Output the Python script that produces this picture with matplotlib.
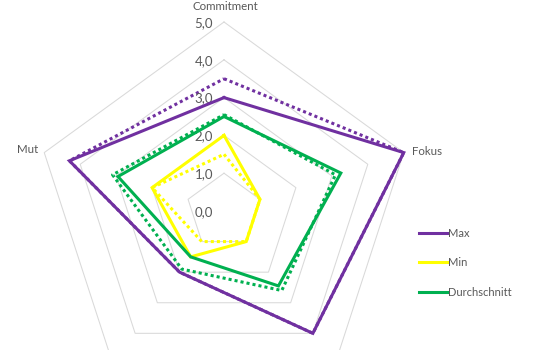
import numpy as np
import matplotlib
matplotlib.use('Agg')
import matplotlib.pyplot as plt

plt.rcParams['font.family'] = ['Lato', 'DejaVu Sans']

# categories clockwise from top; the two lower ones are cut off in the reference
categories = ['Commitment', 'Fokus', '', '', 'Mut']
series = ['Max', 'Min', 'Durchschnitt']
colors = ['#7030A0', '#FFFF00', '#00B050']

max_vals = [3.0, 5.0, 4.0, 2.0, 4.3]
min_vals = [2.0, 1.0, 1.0, 1.5, 2.0]
avg_vals = [2.5, 3.25, 2.45, 1.5, 2.95]

# dotted comparison series (no legend entry)
max_prev = [3.5, 5.0, 4.0, 2.0, 4.3]
min_prev = [1.5, 1.0, 1.0, 1.0, 2.0]
avg_prev = [2.55, 3.1, 2.6, 1.9, 3.1]

ring_values = [1, 2, 3, 4, 5]
text_col = '#595959'

n = len(categories)
angles = np.linspace(0, 2 * np.pi, n, endpoint=False)
closed = np.append(angles, angles[0])


def close(vals):
    return np.append(vals, vals[0])


W, H = 546, 350
fig = plt.figure(figsize=(W / 100, H / 100), dpi=100)
cx, cy, R = 224, 211, 189
ax = fig.add_axes([(cx - R) / W, (H - cy - R) / H, 2 * R / W, 2 * R / H],
                  projection='polar')
ax.set_theta_offset(np.pi / 2)
ax.set_theta_direction(-1)
ax.set_ylim(0, 5)
ax.axis('off')

for v in ring_values:
    ax.plot(closed, [v] * (n + 1), color='#D9D9D9', lw=0.75, clip_on=False, zorder=1)

for v in [0] + ring_values:
    ax.annotate(f'{v:.1f}'.replace('.', ','), xy=(0, v), xytext=(-11, -1),
                textcoords='offset pixels', ha='right', va='center',
                fontsize=9.5, color=text_col, annotation_clip=False)

for vals, c in zip([max_prev, min_prev, avg_prev], colors):
    ax.plot(closed, close(vals), color=c, lw=2.2, ls=(0, (1, 1)),
            dash_capstyle='butt', clip_on=False, zorder=2)

handles = []
for vals, c, name in zip([max_vals, min_vals, avg_vals], colors, series):
    h, = ax.plot(closed, close(vals), color=c, lw=2.2, label=name,
                 solid_joinstyle='miter', clip_on=False, zorder=3)
    handles.append(h)

offsets = {0: ((1, 16), 'center'), 1: ((8, 1), 'left'), 4: ((-6, 3), 'right')}
for i, (off, ha) in offsets.items():
    ax.annotate(categories[i], xy=(angles[i], 5), xytext=off,
                textcoords='offset pixels', ha=ha, va='center',
                fontsize=8.3, color=text_col, annotation_clip=False)

fig.legend(handles=handles, loc='upper left', bbox_to_anchor=(419 / W, 1 - 228 / H),
           frameon=False, borderpad=0, borderaxespad=0, handlelength=2.5,
           handletextpad=0.15, labelspacing=1.65, fontsize=8, labelcolor=text_col)

fig.savefig('out.png', dpi=100)
